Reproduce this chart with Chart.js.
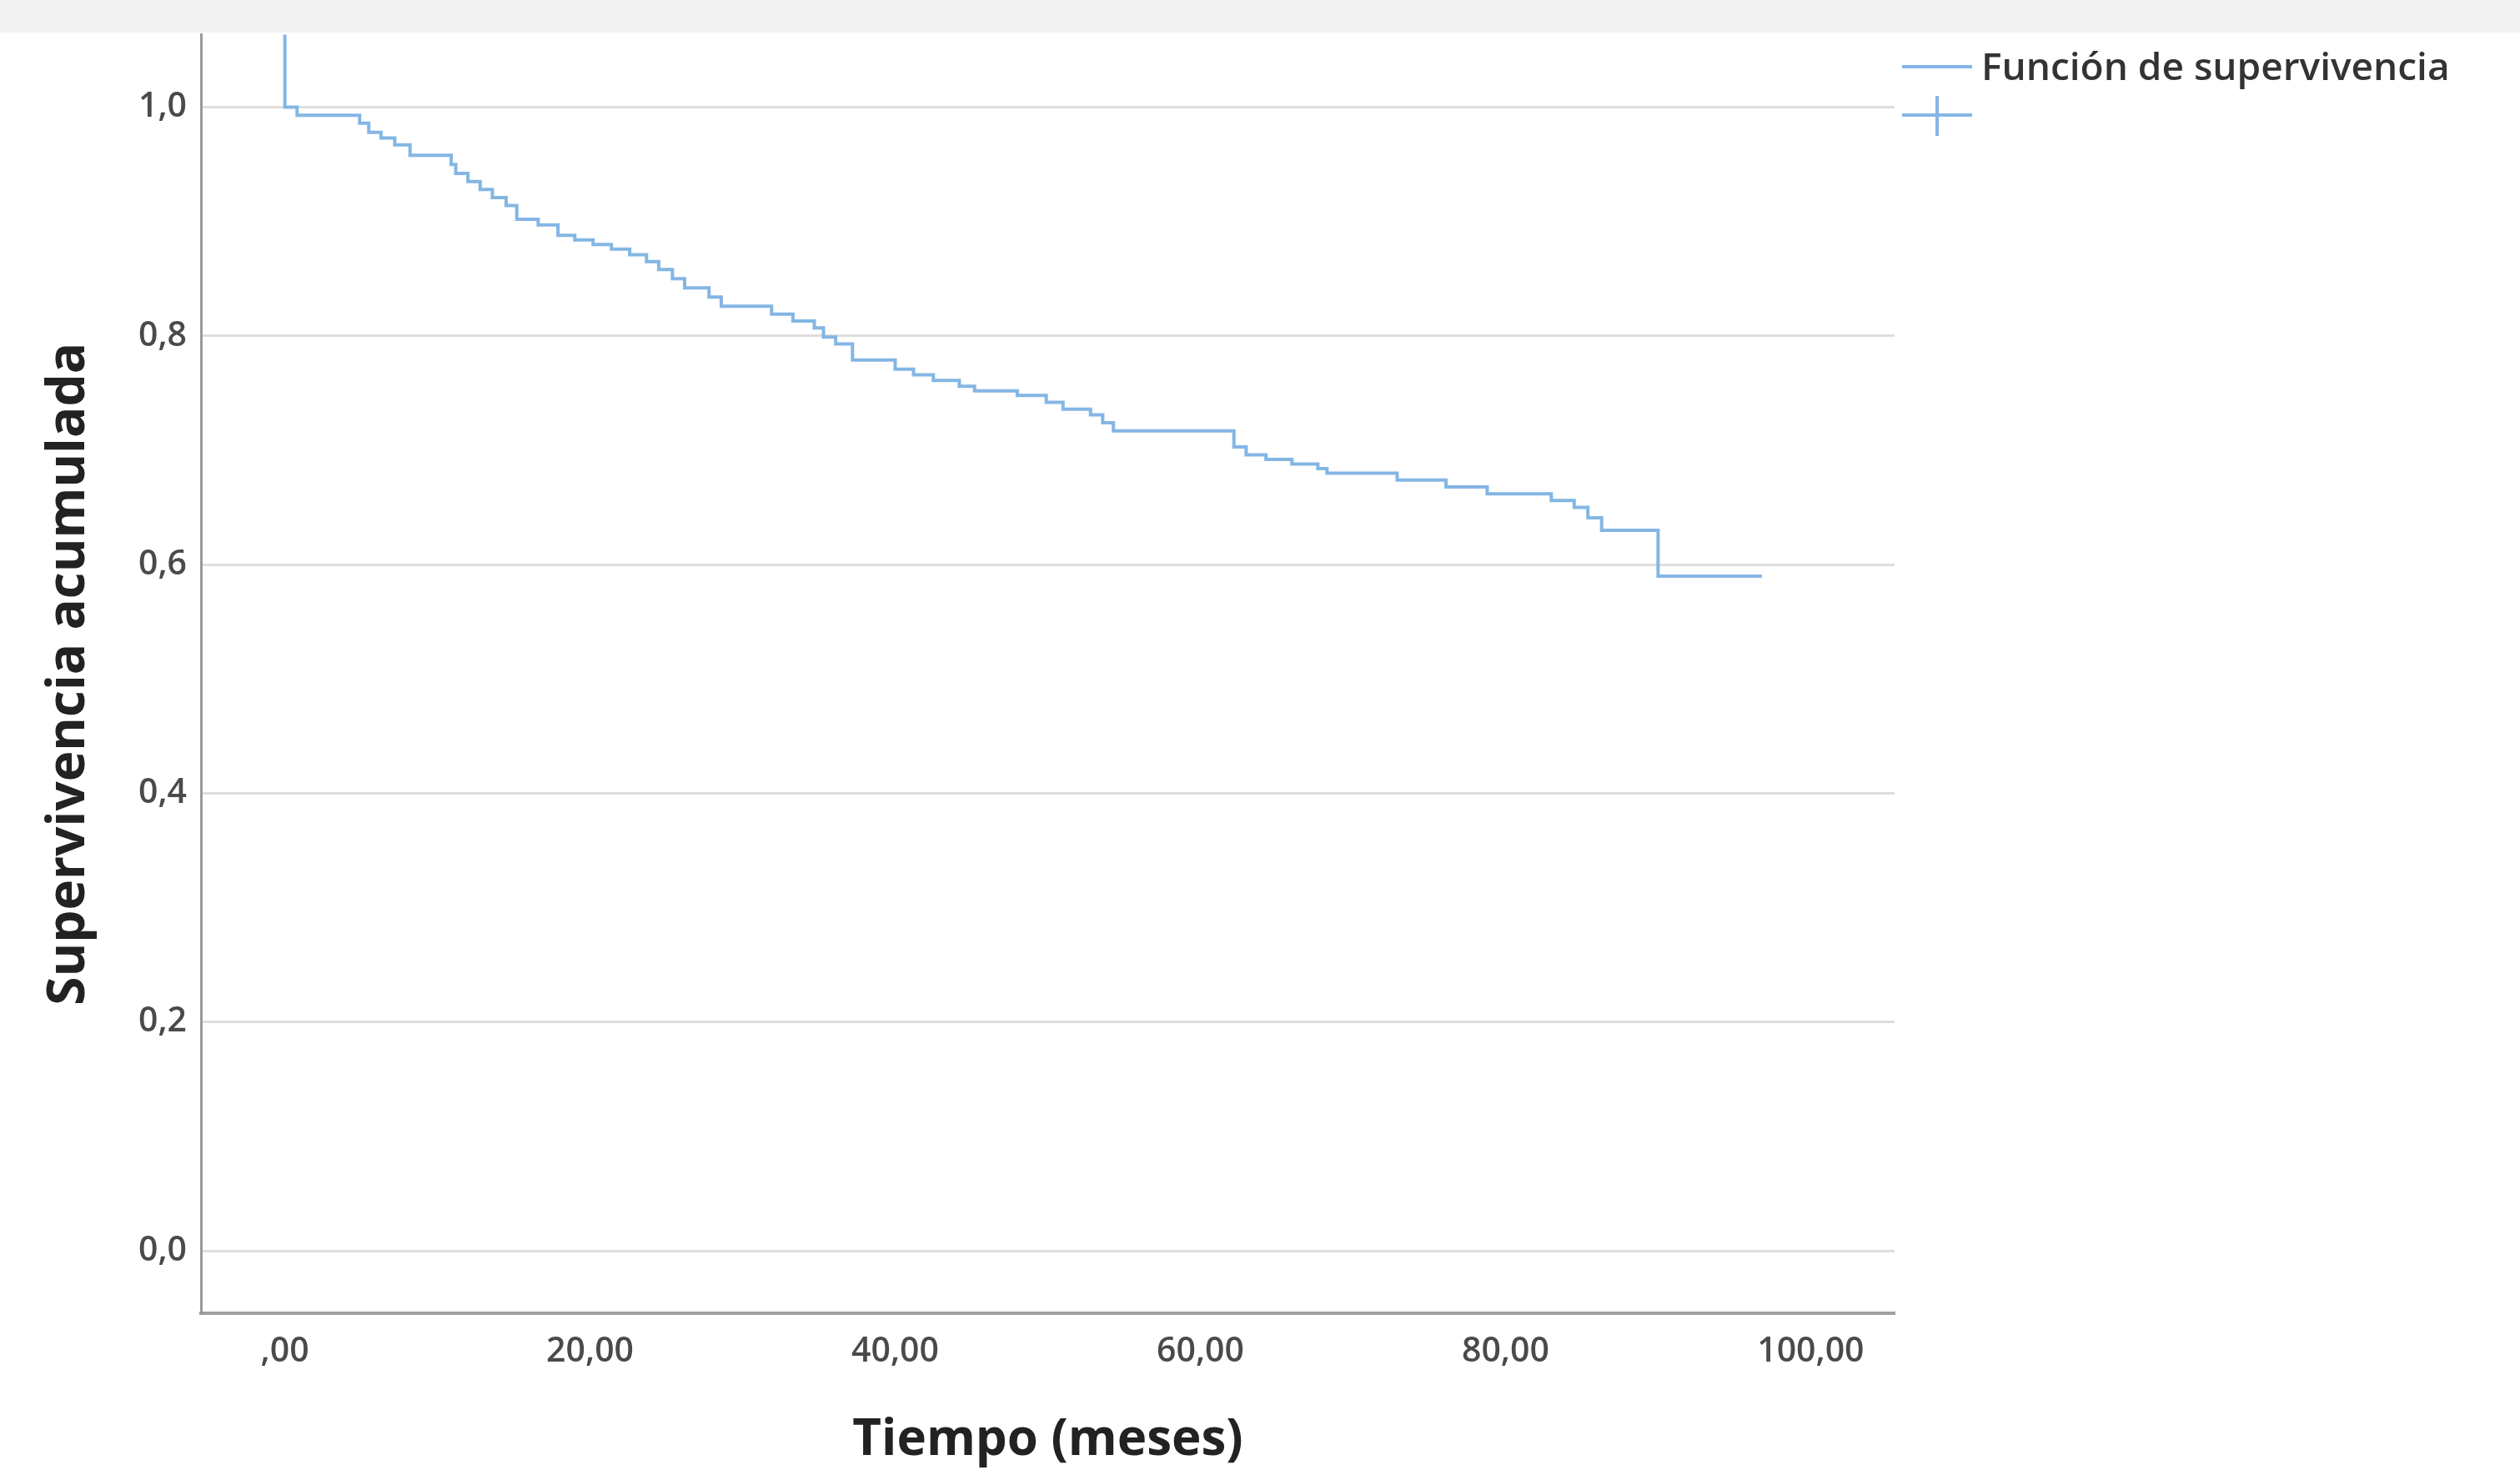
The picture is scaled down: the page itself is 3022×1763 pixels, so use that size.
<!DOCTYPE html>
<html lang="es">
<head>
<meta charset="utf-8">
<title>Función de supervivencia</title>
<script src="https://cdn.jsdelivr.net/npm/chart.js@4/dist/chart.umd.min.js"></script>
<style>
  html, body { margin: 0; padding: 0; background: #ffffff; }
  #wrap { position: relative; width: 3022px; height: 1763px; overflow: hidden; }
  #band { position: absolute; left: 0; top: 0; width: 3022px; height: 39px; background: #f2f2f2; z-index: 2; }
  canvas { position: absolute; left: 0; top: 0; }
</style>
</head>
<body>
<div id="wrap">
  <div id="band"></div>
  <canvas id="km" width="3022" height="1763"></canvas>
</div>
<script>
// Kaplan–Meier estimate: event times (months) and cumulative survival after each event
const tiempos = [0, 0, 0.8, 4.9, 5.5, 6.3, 7.2, 8.2, 10.9, 11.2, 12.0, 12.8, 13.6, 14.5, 15.2,
  16.6, 17.9, 19.0, 20.2, 21.4, 22.6, 23.7, 24.5, 25.4, 26.2, 27.8, 28.6, 31.9, 33.3, 34.7,
  35.3, 36.1, 37.2, 40.0, 41.2, 42.5, 44.2, 45.2, 48.0, 49.9, 51.0, 52.8, 53.6, 54.3, 62.2,
  63.0, 64.3, 66.0, 67.7, 68.3, 72.9, 76.1, 78.8, 83.0, 84.5, 85.4, 86.3, 90.0, 96.8];
const supervivencia = [1.10, 1.000, 0.993, 0.986, 0.978, 0.973, 0.967, 0.958, 0.950, 0.942, 0.935,
  0.928, 0.921, 0.914, 0.902, 0.897, 0.888, 0.884, 0.880, 0.876, 0.871, 0.865, 0.858, 0.850,
  0.842, 0.834, 0.826, 0.819, 0.813, 0.807, 0.799, 0.793, 0.779, 0.771, 0.766, 0.761, 0.756,
  0.752, 0.748, 0.742, 0.736, 0.731, 0.724, 0.717, 0.703, 0.696, 0.692, 0.688, 0.684, 0.680,
  0.674, 0.668, 0.662, 0.656, 0.650, 0.641, 0.630, 0.590, 0.590];

// Axis ticks and their labels (comma decimals)
const xTicks = [0, 20, 40, 60, 80, 100];
const xTickLabels = [',00', '20,00', '40,00', '60,00', '80,00', '100,00'];
const yTicks = [0, 0.2, 0.4, 0.6, 0.8, 1.0];
const yTickLabels = ['0,0', '0,2', '0,4', '0,6', '0,8', '1,0'];

// Legend entries: survival function and censored marker
const legendLabels = ['Función de supervivencia', ''];

const lineColor = '#84b6e4';
const FONT = "'Open Sans', 'DejaVu Sans', sans-serif";

const legendPlugin = {
  id: 'kmLegend',
  afterDraw(chart) {
    const ctx = chart.ctx;
    ctx.save();
    ctx.strokeStyle = lineColor;
    ctx.lineWidth = 4;
    // survival function sample
    ctx.beginPath();
    ctx.moveTo(2281, 80); ctx.lineTo(2365, 80);
    ctx.stroke();
    // censored sample: line with cross
    ctx.beginPath();
    ctx.moveTo(2281, 138); ctx.lineTo(2365, 138);
    ctx.moveTo(2323, 115); ctx.lineTo(2323, 163);
    ctx.stroke();
    ctx.fillStyle = '#333333';
    ctx.font = '600 46px ' + FONT;
    ctx.textBaseline = 'middle';
    ctx.textAlign = 'left';
    ctx.fillText(legendLabels[0], 2376, 83);
    ctx.fillText(legendLabels[1], 2376, 139);
    ctx.restore();
  }
};

new Chart(document.getElementById('km'), {
  type: 'line',
  data: {
    datasets: [{
      label: legendLabels[0],
      data: tiempos.map((t, i) => ({ x: t, y: supervivencia[i] })),
      borderColor: lineColor,
      borderWidth: 4,
      stepped: true,
      pointRadius: 0,
      fill: false
    }]
  },
  options: {
    responsive: false,
    animation: false,
    devicePixelRatio: 1,
    layout: { padding: { top: 40, right: 750, left: 0, bottom: 0 } },
    plugins: { legend: { display: false }, tooltip: { enabled: false } },
    scales: {
      x: {
        type: 'linear',
        min: -5.5,
        max: 105.5,
        afterFit(s) { s.height = 188; },
        afterBuildTicks(s) { s.ticks = xTicks.map(v => ({ value: v })); },
        grid: { display: false, drawTicks: false },
        border: { display: true, color: '#a0a0a0', width: 4 },
        ticks: {
          padding: 22,
          color: '#4a4a4a',
          font: { family: FONT, size: 41, weight: '600' },
          callback: (v) => xTickLabels[xTicks.indexOf(v)]
        },
        title: {
          display: true,
          text: 'Tiempo (meses)',
          color: '#222222',
          font: { family: FONT, size: 60, weight: 'bold', lineHeight: 1 },
          padding: { top: 0, bottom: 5 }
        }
      },
      y: {
        type: 'linear',
        min: -0.0546,
        max: 1.0634,
        afterFit(s) { s.width = 241; },
        afterBuildTicks(s) { s.ticks = yTicks.map(v => ({ value: v })); },
        grid: { display: true, drawTicks: false, color: '#dedede', lineWidth: 3 },
        border: { display: true, color: '#9a9a9a', width: 3 },
        ticks: {
          padding: 17,
          color: '#4a4a4a',
          font: { family: FONT, size: 41, weight: '600' },
          callback: (v) => yTickLabels[yTicks.indexOf(v)]
        },
        title: {
          display: true,
          text: 'Supervivencia acumulada',
          color: '#222222',
          font: { family: FONT, size: 62, weight: 'bold', lineHeight: 1 },
          padding: { top: 52, bottom: 0 }
        }
      }
    }
  },
  plugins: [legendPlugin]
});
</script>
</body>
</html>
